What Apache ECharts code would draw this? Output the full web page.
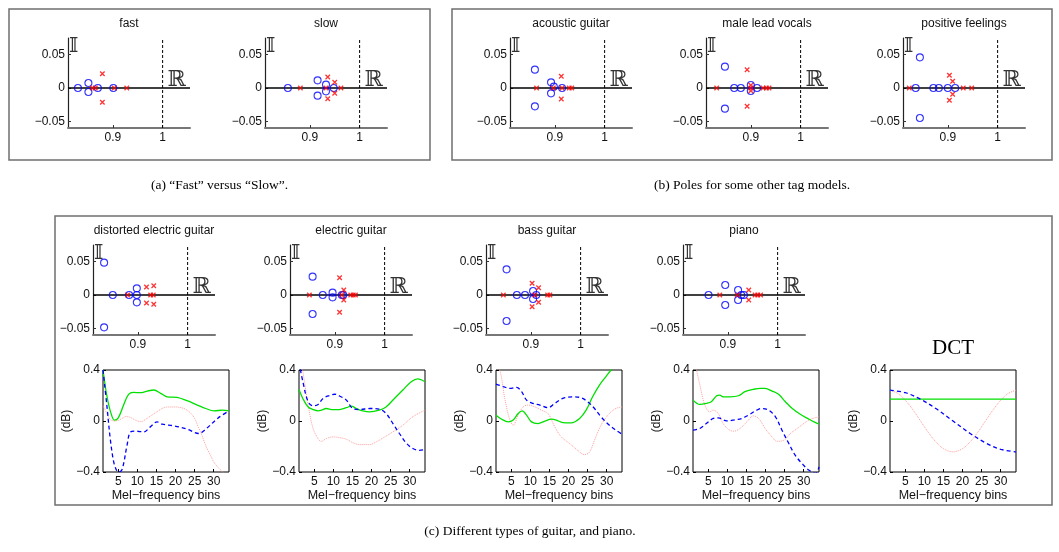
<!DOCTYPE html>
<html><head><meta charset="utf-8">
<script src="https://cdn.jsdelivr.net/npm/echarts@6/dist/echarts.min.js"></script>
<style>html,body{margin:0;padding:0;background:#fff}#c{width:1059px;height:552px}</style>
</head><body><div id="c"></div>
<script>
// ================= DATA =================
const poleTitles = ['fast','slow','acoustic guitar','male lead vocals','positive feelings',
  'distorted electric guitar','electric guitar','bass guitar','piano'];
const poleXTicks = [0.9, 1];
const poleYTicks = [-0.05, 0, 0.05];
const poleXLim = [0.81, 1.055];
const poleYLim = [-0.06, 0.075];
const unitRe = 1;

// zeros (o) and poles (x): [real, imag]
const fastO = [[0.830,0],[0.851,0.0075],[0.851,-0.006],[0.870,0],[0.901,0]];
const fastX = [[0.859,0],[0.865,0],[0.879,0.0215],[0.879,-0.0215],[0.903,0],[0.928,0]];
const slowO = [[0.856,0],[0.9156,0.0115],[0.9156,-0.0115],[0.9325,0.005],[0.9325,-0.005],[0.948,0]];
const slowX = [[0.881,0],[0.9325,0],[0.936,0.0165],[0.936,-0.016],[0.95,0.0085],[0.95,-0.008],[0.9625,0]];
const acoO = [[0.860,0.0275],[0.860,-0.0275],[0.8924,0.0085],[0.8924,-0.008],[0.898,0.002],[0.9146,0]];
const acoX = [[0.8633,0],[0.897,0],[0.913,0.0175],[0.913,-0.0165],[0.9146,0],[0.929,0],[0.934,0]];
const maleO = [[0.848,0.032],[0.848,-0.031],[0.8666,0],[0.880,0],[0.900,0.0045],[0.900,-0.0045],[0.9126,0]];
const maleX = [[0.8314,0],[0.8926,0.0275],[0.8926,-0.0275],[0.900,0.004],[0.900,-0.004],[0.900,0],[0.9246,0],[0.9314,0],[0.9366,0]];
const posO = [[0.8439,0.046],[0.8439,-0.045],[0.8355,0],[0.871,0],[0.882,0],[0.9,0],[0.9148,0]];
const posX = [[0.8226,0],[0.9032,0.019],[0.9032,-0.0185],[0.9097,0.01],[0.9097,-0.0095],[0.931,0],[0.948,0]];
const distO = [[0.8323,0.0485],[0.8323,-0.0485],[0.8497,0],[0.8826,0],[0.898,0.01],[0.898,0],[0.898,-0.011]];
const distX = [[0.8794,0],[0.9174,0.012],[0.9174,-0.012],[0.932,0.014],[0.932,-0.014],[0.9258,0],[0.931,0]];
const elecO = [[0.8554,0.0275],[0.8554,-0.0285],[0.8758,0],[0.8955,0.0035],[0.8955,-0.0035],[0.914,0],[0.917,0]];
const elecX = [[0.849,0],[0.9096,0.026],[0.9096,-0.026],[0.918,0.0075],[0.918,-0.0075],[0.932,0],[0.937,0],[0.9414,0],[0.914,0]];
const bassO = [[0.8513,0.0385],[0.8513,-0.039],[0.872,0],[0.8883,0],[0.9045,0.006],[0.9045,-0.006],[0.911,0]];
const bassX = [[0.8448,0],[0.9026,0.0175],[0.9026,-0.0175],[0.9156,0.011],[0.9156,-0.011],[0.9338,0],[0.9383,0],[0.908,0]];
const pianoO = [[0.8613,0],[0.8948,0.015],[0.8948,-0.015],[0.9206,0.0075],[0.9206,-0.0075],[0.9323,0],[0.927,0]];
const pianoX = [[0.8839,0],[0.919,0],[0.942,0.0075],[0.942,-0.0075],[0.9548,0],[0.96,0],[0.9658,0]];

// filter responses: [mel bin, dB]
const melTicks = [5,10,15,20,25,30];
const dbTicks = [-0.4, 0, 0.4];
const binRange = [1, 34];
const dbRange = [-0.4, 0.4];

const distG = [[1,0.40],[2,0.20],[3,0.07],[4,0.007],[5,0.025],[6.4,0.125],[7.7,0.209],[9,0.224],[10.8,0.222],[12.6,0.235],[14.3,0.243],[16.1,0.217],[17.8,0.19],[20.4,0.185],[23,0.159],[25.7,0.125],[27.9,0.098],[30.1,0.08],[32.3,0.085],[34,0.08]];
const distB = [[1,0.40],[2,0.125],[2.9,-0.14],[3.8,-0.32],[4.6,-0.39],[5.1,-0.40],[6,-0.38],[7.3,-0.19],[8.2,-0.086],[9.5,-0.08],[11.7,-0.085],[13.4,-0.046],[15.2,-0.007],[16.5,-0.025],[19.6,-0.038],[23,-0.064],[26.1,-0.098],[27.9,-0.064],[31,0.02],[34,0.08]];
const distP = [[1,0.12],[2,0.06],[3,0.01],[4,0.0],[5,0.005],[6,0.02],[7,0.035],[8,0.03],[9,0.015],[10,0.0],[11,-0.005],[12,0.01],[13,0.03],[14,0.05],[15,0.07],[16,0.09],[17,0.105],[18,0.11],[20,0.11],[22,0.1],[23,0.085],[24,0.06],[25,0.02],[26,-0.05],[27,-0.12],[28,-0.2],[29,-0.26],[30,-0.32],[31,-0.36],[32,-0.39],[33,-0.42],[34,-0.44]];

const elecG = [[1,0.248],[2,0.177],[3.4,0.11],[4.7,0.09],[6,0.08],[6.9,0.085],[8.1,0.098],[9.9,0.09],[11.6,0.09],[13.4,0.104],[14.7,0.117],[16,0.098],[17.7,0.08],[19.5,0.072],[22,0.085],[23.8,0.11],[26,0.177],[28.2,0.243],[30.4,0.308],[32.1,0.33],[34,0.308]];
const elecB = [[1,0.46],[2,0.31],[3.4,0.15],[4.7,0.12],[6,0.13],[7.3,0.177],[9,0.2],[10.3,0.21],[12,0.19],[13.4,0.164],[15.1,0.098],[16.9,0.09],[19.5,0.098],[22,0.093],[23.8,0.059],[25.6,-0.02],[27.3,-0.098],[29,-0.17],[30.8,-0.216],[32.5,-0.23],[34,-0.224]];
const elecP = [[1,0.55],[2,0.39],[3.4,0.125],[4.7,-0.06],[6,-0.138],[6.8,-0.16],[8.1,-0.138],[9.9,-0.125],[11.6,-0.13],[13.4,-0.143],[15.1,-0.17],[16.9,-0.185],[19.5,-0.185],[21.2,-0.164],[23,-0.133],[25.6,-0.085],[28.2,-0.033],[30.8,0.033],[34,0.085]];

const bassG = [[1,0.046],[2.5,0.014],[4.2,-0.007],[5.5,0.007],[6.8,0.059],[7.9,0.08],[9,0.046],[10.3,-0.007],[12,-0.02],[13.8,-0.001],[15.5,0.014],[16.8,0.007],[18.5,-0.012],[20.7,-0.014],[22.9,0.02],[24.6,0.085],[26.3,0.19],[28.1,0.282],[29.8,0.348],[31.1,0.4],[32.4,0.45],[34,0.5]];
const bassB = [[1,0.29],[2.9,0.27],[4.6,0.256],[6.4,0.264],[7.7,0.23],[9,0.164],[10.7,0.138],[12.5,0.125],[14.6,0.104],[16.4,0.138],[18.5,0.177],[21.1,0.19],[23.3,0.182],[25,0.151],[26.8,0.098],[28.5,0.033],[30.7,-0.033],[32.4,-0.072],[34,-0.104]];
const bassP = [[1,0.43],[2,0.4],[3.3,0.177],[4.5,0.02],[5.5,-0.033],[6.8,0.046],[8.1,0.11],[9.4,0.125],[11.2,0.11],[12.9,0.085],[14.6,0.059],[16.4,-0.046],[18.1,-0.125],[20.3,-0.177],[22.4,-0.23],[24.2,-0.264],[25.5,-0.243],[26.8,-0.151],[28.5,-0.033],[30.7,0.059],[32.4,0.098],[34,0.11]];

const pianoG = [[1,0.164],[2.8,0.13],[4.5,0.138],[5.8,0.151],[7.2,0.198],[8,0.203],[8.9,0.19],[10.7,0.19],[12.9,0.198],[14.6,0.23],[16.8,0.248],[18.6,0.256],[19.9,0.256],[21.7,0.235],[23.4,0.209],[25.2,0.151],[27,0.098],[29.2,0.051],[31.4,0.014],[32.7,-0.007],[34,-0.025]];
const pianoB = [[1,-0.072],[2.8,-0.059],[4.5,-0.02],[6.3,0.02],[7.6,0.025],[9.8,0.001],[11.6,0.007],[13.8,0.02],[15.5,0.046],[17.7,0.085],[19,0.098],[20.8,0.085],[22.6,0.033],[24.3,-0.072],[26.1,-0.177],[27.8,-0.27],[29.6,-0.335],[31.4,-0.387],[33.1,-0.41],[34,-0.36]];
const pianoP = [[1,0.5],[1.9,0.4],[2.8,0.282],[4.1,0.125],[5.4,0.072],[6.3,0.085],[7.6,0.059],[8.9,-0.02],[10.2,-0.064],[11.6,-0.08],[13.3,-0.059],[15.1,-0.007],[16.8,0.04],[18.2,0.02],[19.9,-0.059],[21.7,-0.125],[23,-0.159],[24.8,-0.151],[26.5,-0.098],[28.3,-0.059],[30,-0.02],[31.8,0.014],[34,0.033]];

const dctG = [[1,0.172],[10,0.172],[20,0.172],[34,0.172]];
const dctB = [[1,0.242],[5,0.222],[9,0.171],[13,0.098],[17.5,0],[22,-0.098],[26,-0.171],[30,-0.222],[34,-0.242]];
const dctP = [[1,0.241],[3,0.217],[5,0.163],[7,0.088],[9,0],[11,-0.088],[13,-0.163],[15,-0.217],[17.5,-0.242],[20,-0.217],[22,-0.163],[24,-0.088],[26,0],[28,0.088],[30,0.163],[32,0.217],[34,0.241]];

const captions = ['(a) \u201CFast\u201D versus \u201CSlow\u201D.', '(b) Poles for some other tag models.', '(c) Different types of guitar, and piano.'];
const xName = 'Mel\u2212frequency bins';
const yName = '(dB)';

// ================= LAYOUT =================
const poleSets = [[fastO,fastX],[slowO,slowX],[acoO,acoX],[maleO,maleX],[posO,posX],[distO,distX],[elecO,elecX],[bassO,bassX],[pianoO,pianoX]];
const poleLayout = [[68,38],[265,38],[510,38],[706,38],[903,38],[93,245],[290,245],[486,245],[683,245]];
const POLE_W = 122, POLE_H = 90;
const curveSets = [[distG,distB,distP],[elecG,elecB,elecP],[bassG,bassB,bassP],[pianoG,pianoB,pianoP],[dctG,dctB,dctP]];
const curveLayout = [[103,370],[299,370],[496,370],[693,370],[890,370]];
const CURVE_W = 126, CURVE_H = 102;

const SANS = '"Liberation Sans", Arial, Helvetica, sans-serif';
const SERIF = '"Liberation Serif", "Times New Roman", serif';
const MATH = '"DejaVu Serif", "DejaVu Sans", serif';
const fmt = v => v < 0 ? '\u2212' + String(Math.abs(v)) : String(v);
const txt = (x, y, text, font, align, valign, fill) => ({
  type:'text', x, y, silent:true,
  style:{text, font, fill: fill || '#000', textAlign:align, textVerticalAlign:valign, align:align, verticalAlign:valign}
});

const grid = [], xAxis = [], yAxis = [], series = [], graphic = [];

poleSets.forEach(([zo, px], i) => {
  const [l, t] = poleLayout[i];
  grid.push({left:l, top:t, width:POLE_W, height:POLE_H, containLabel:false, outerBoundsMode:'none'});
  xAxis.push({type:'value', gridIndex:i, min:poleXLim[0], max:poleXLim[1],
    axisLine:{show:true, onZero:false, lineStyle:{color:'#777', width:2}},
    axisTick:{show:true, inside:true, length:3, customValues:poleXTicks, lineStyle:{color:'#333'}},
    axisLabel:{customValues:poleXTicks, formatter:fmt, margin:4, fontSize:12, color:'#111', fontFamily:SANS},
    splitLine:{show:false}});
  yAxis.push({type:'value', gridIndex:i, min:poleYLim[0], max:poleYLim[1],
    axisLine:{show:true, onZero:false, lineStyle:{color:'#222', width:1.2}},
    axisTick:{show:true, inside:true, length:3, customValues:poleYTicks, lineStyle:{color:'#333'}},
    axisLabel:{customValues:poleYTicks, formatter:fmt, margin:3, fontSize:12, color:'#111', fontFamily:SANS},
    splitLine:{show:false}});
  series.push({type:'line', xAxisIndex:i, yAxisIndex:i, silent:true, showSymbol:false, z:2,
    data: poleXLim.map(x => [x, 0]), lineStyle:{color:'#000', width:1.3}});
  series.push({type:'line', xAxisIndex:i, yAxisIndex:i, silent:true, showSymbol:false, z:2,
    data: poleYLim.map(y => [unitRe, y]), lineStyle:{color:'#000', width:1, type:[3,2]}});
  series.push({type:'scatter', xAxisIndex:i, yAxisIndex:i, silent:true, z:3, data: zo,
    symbol:'circle', symbolSize:7, itemStyle:{color:'rgba(0,0,0,0)', borderColor:'#0000ff', borderWidth:1.1}});
  series.push({type:'scatter', xAxisIndex:i, yAxisIndex:i, silent:true, z:4, data: px,
    symbol:'path://M0 0L10 10M10 0L0 10', symbolSize:4.5,
    itemStyle:{color:'rgba(0,0,0,0)', borderColor:'#ff0000', borderWidth:1.3}});
  graphic.push(txt(l + POLE_W/2, t - 14, poleTitles[i], '12px ' + SANS, 'center', 'middle', '#111'));
  graphic.push(txt(l + 1, t - 1, '\uD835\uDD40', '20px ' + MATH, 'left', 'top', '#333'));
  const xr = l + (unitRe - poleXLim[0]) / (poleXLim[1] - poleXLim[0]) * POLE_W;
  const yz = t + (poleYLim[1] - 0) / (poleYLim[1] - poleYLim[0]) * POLE_H;
  graphic.push(txt(xr + 5, yz - 8, '\u211D', '22px ' + MATH, 'left', 'middle', '#333'));
});

curveSets.forEach(([g, b, p], j) => {
  const gi = poleSets.length + j;
  const [l, t] = curveLayout[j];
  grid.push({left:l, top:t, width:CURVE_W, height:CURVE_H, show:true, borderColor:'#000', borderWidth:1,
    backgroundColor:'rgba(0,0,0,0)', containLabel:false, outerBoundsMode:'none'});
  xAxis.push({type:'value', gridIndex:gi, min:binRange[0], max:binRange[1], position:'bottom',
    name:xName, nameLocation:'middle', nameGap:14,
    nameTextStyle:{fontSize:12.5, color:'#111', fontFamily:SANS},
    axisLine:{show:false, onZero:false},
    axisTick:{show:true, inside:true, length:3, customValues:melTicks, lineStyle:{color:'#000'}},
    axisLabel:{customValues:melTicks, margin:4, fontSize:12, color:'#111', fontFamily:SANS},
    splitLine:{show:false}});
  yAxis.push({type:'value', gridIndex:gi, min:dbRange[0], max:dbRange[1], position:'left',
    name:yName, nameLocation:'middle', nameRotate:90, nameGap:27,
    nameTextStyle:{fontSize:12, color:'#111', fontFamily:SANS},
    axisLine:{show:false, onZero:false},
    axisTick:{show:true, inside:true, length:3, customValues:dbTicks, lineStyle:{color:'#000'}},
    axisLabel:{customValues:dbTicks, formatter:fmt, margin:3, fontSize:12, color:'#111', fontFamily:SANS},
    splitLine:{show:false}});
  series.push({type:'line', xAxisIndex:gi, yAxisIndex:gi, silent:true, showSymbol:false, smooth:0.35, clip:true, z:2,
    data:p, lineStyle:{color:'#ff9c9c', width:1, type:'dotted'}});
  series.push({type:'line', xAxisIndex:gi, yAxisIndex:gi, silent:true, showSymbol:false, smooth:0.35, clip:true, z:3,
    data:g, lineStyle:{color:'#00e000', width:1.3}});
  series.push({type:'line', xAxisIndex:gi, yAxisIndex:gi, silent:true, showSymbol:false, smooth:0.35, clip:true, z:4,
    data:b, lineStyle:{color:'#0000ff', width:1.3, type:[4,3]}});
});

const dl = curveLayout[4];
graphic.push(txt(dl[0] + CURVE_W/2, dl[1] - 22, 'DCT', '21px ' + SERIF, 'center', 'middle', '#000'));

const frames = [[9,9,421,151],[452,9,600,151],[55,216,997,289]];
frames.forEach(([x,y,w,h]) => graphic.push({type:'rect', silent:true, z:-1, shape:{x,y,width:w,height:h},
  style:{fill:'none', stroke:'#6f6f6f', lineWidth:1.5}}));
graphic.push(txt(219.5, 185, captions[0], '13.5px ' + SERIF, 'center', 'middle', '#000'));
graphic.push(txt(752, 185, captions[1], '13.5px ' + SERIF, 'center', 'middle', '#000'));
graphic.push(txt(530, 531, captions[2], '13.5px ' + SERIF, 'center', 'middle', '#000'));

const chart = echarts.init(document.getElementById('c'));
chart.setOption({animation:false, backgroundColor:'#fff', grid, xAxis, yAxis, series, graphic});
</script>
</body></html>
